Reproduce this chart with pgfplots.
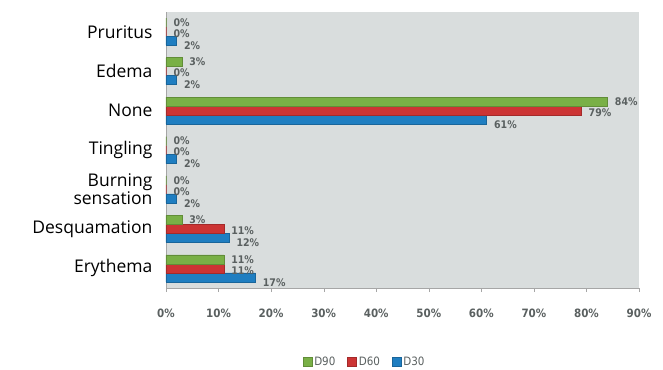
\documentclass[border=0pt]{standalone}
\usepackage{pgfplots}
\pgfplotsset{compat=1.18}
\usepackage{fontspec}
\setmainfont{Open Sans}
\newfontfamily\dejavu{DejaVu Sans}
\newfontfamily\dejavucond{DejaVu Sans Condensed}
\definecolor{cgreen}{HTML}{79B046}
\definecolor{cred}{HTML}{CC3434}
\definecolor{cblue}{HTML}{1F7EC1}
\definecolor{cbg}{HTML}{D9DDDD}
\definecolor{cgraytxt}{HTML}{5A6060}
\begin{document}
\begin{tikzpicture}
\path[use as bounding box] (-166pt,-81pt) rectangle (497pt,288pt);
\begin{axis}[
  at={(0,0)}, anchor=south west,
  scale only axis, width=473pt, height=276pt,
  /pgf/number format/assume math mode=true,
  xbar=0pt, bar width=9pt,
  xmin=0, xmax=90, ymin=-0.5, ymax=6.5,
  axis lines=left,
  axis line style={draw=gray!70, -},
  axis background/.style={fill=cbg},
  xtick={0,10,...,90},
  xticklabel={\pgfmathprintnumber{\tick}\%},
  xticklabel style={font=\dejavucond\bfseries\fontsize{11.5}{12}\selectfont, text=cgraytxt, yshift=-13pt},
  tick align=outside,
  major tick length=4pt,
  tick style={draw=gray!70},
  ytick={0,...,6},
  yticklabels={Erythema,Desquamation,{Burning\\sensation},Tingling,None,Edema,Pruritus},
  yticklabel style={font=\fontsize{17.5}{17}\selectfont, align=right, text=black, xshift=-6pt},
  y tick style={draw=none},
  extra y ticks={-0.5,0.5,...,6.5},
  extra y tick labels={},
  extra y tick style={tick style={draw=gray!70}, major tick length=5pt},
  nodes near coords={\pgfmathprintnumber{\pgfplotspointmeta}\%},
  nodes near coords style={font=\dejavucond\bfseries\fontsize{10.5}{10}\selectfont, text=cgraytxt, anchor=west, xshift=4pt},
  reverse legend,
  legend columns=3,
  legend style={draw=none, fill=none, at={(0.42,-0.268)}, anchor=center,
    font=\dejavucond\fontsize{11.5}{12}\selectfont, text=cgraytxt,
    /tikz/every even column/.append style={column sep=10pt}},
  legend image code/.code={\fill[#1] (0pt,-4.5pt) rectangle (9pt,4.5pt);},
]
\addplot[fill=cblue, draw=cblue!80!black, nodes near coords style={yshift=-5pt}] coordinates {(17,0) (12,1) (2,2) (2,3) (61,4) (2,5) (2,6)};
\addplot[fill=cred, draw=cred!80!black, nodes near coords style={yshift=-2pt}] coordinates {(11,0) (11,1) (0,2) (0,3) (79,4) (0,5) (0,6)};
\addplot[fill=cgreen, draw=cgreen!80!black] coordinates {(11,0) (3,1) (0,2) (0,3) (84,4) (3,5) (0,6)};
\legend{D30,D60,D90}
\end{axis}
\end{tikzpicture}
\end{document}
